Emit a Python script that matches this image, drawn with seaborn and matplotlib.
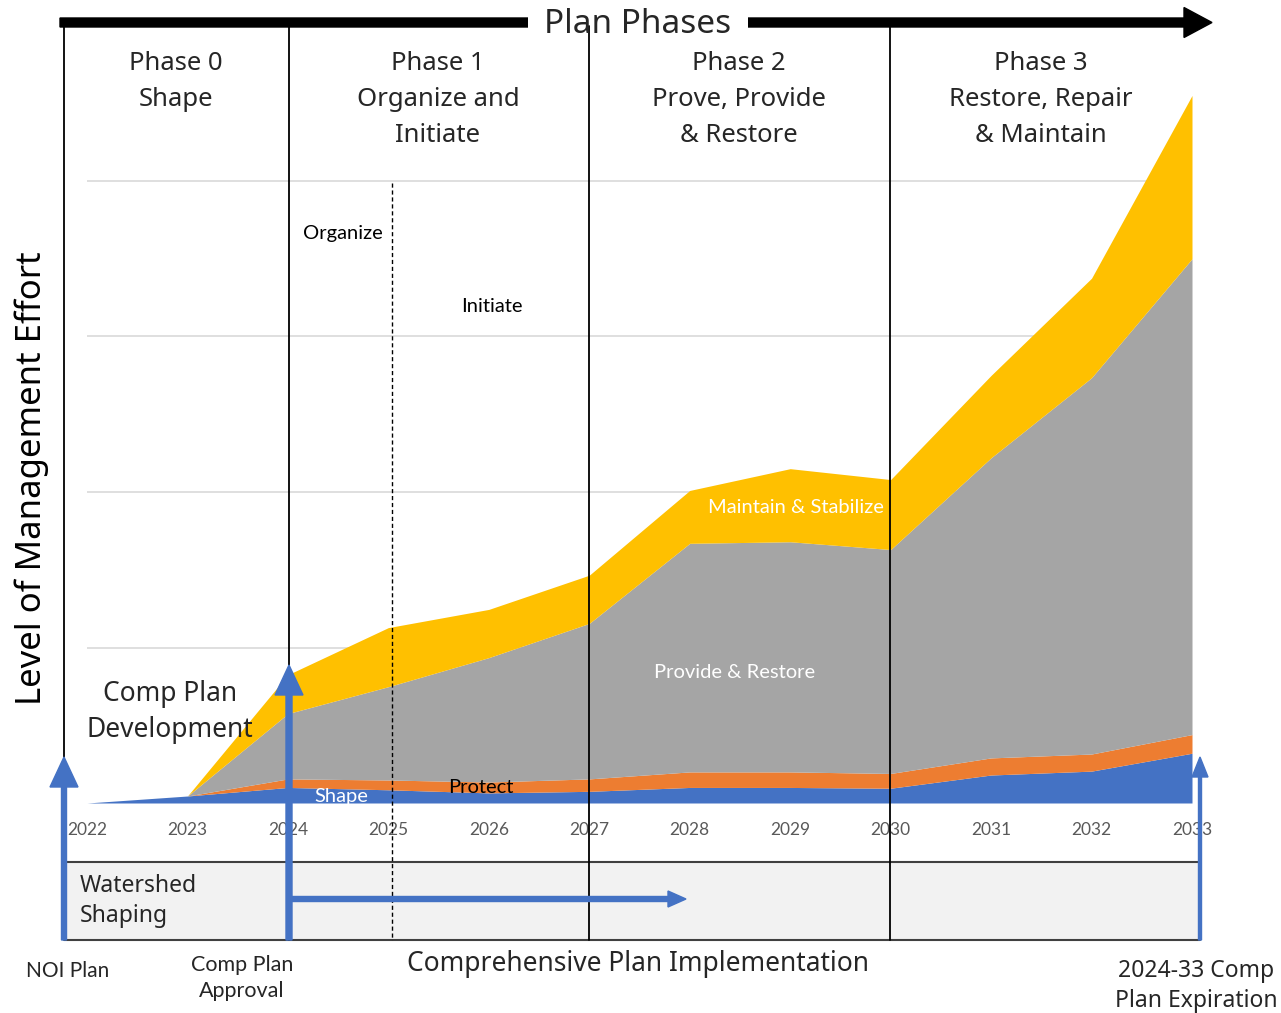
import numpy as np
import seaborn as sns
from matplotlib import pyplot as plt
from matplotlib.patches import Rectangle

years = list(range(2022, 2034))
shape = [0, 0.045, 0.10, 0.085, 0.065, 0.075, 0.10, 0.10, 0.095, 0.18, 0.205, 0.32]
protect = [0, 0, 0.055, 0.063, 0.07, 0.08, 0.10, 0.10, 0.095, 0.11, 0.11, 0.12]
provide = [0, 0, 0.42, 0.60, 0.80, 1.00, 1.47, 1.48, 1.44, 1.93, 2.42, 3.06]
maintain = [0, 0, 0.25, 0.38, 0.31, 0.31, 0.34, 0.47, 0.45, 0.53, 0.64, 1.05]
series_names = ['Shape', 'Protect', 'Provide & Restore', 'Maintain & Stabilize']
colors = ['#4472C4', '#ED7D31', '#A5A5A5', '#FFC000']

phase_labels = ['Phase 0\nShape', 'Phase 1\nOrganize and\nInitiate',
                'Phase 2\nProve, Provide\n& Restore', 'Phase 3\nRestore, Repair\n& Maintain']

sns.set_style('white')
plt.rcParams['font.family'] = ['Noto Sans', 'DejaVu Sans']
txt = '#262626'

W, H = 1281, 1013
fig = plt.figure(figsize=(W / 100, H / 100), dpi=100)

# main stacked area chart
ax = fig.add_axes([87 / W, (H - 803) / H, (1192 - 87) / W, (803 - 25.5) / H])
ax.stackplot(years, shape, protect, provide, maintain, colors=colors, labels=series_names, lw=0)
ax.set_xlim(2022, 2033)
ax.set_ylim(0, 5)
ax.set_yticks([1, 2, 3, 4])
ax.set_yticklabels([])
ax.grid(axis='y', color='#d9d9d9', lw=1.2)
ax.set_axisbelow(True)
ax.set_xticks(years)
ax.set_xticklabels([str(y) for y in years], color='#595959', fontsize=12.5, family='Lato')
ax.tick_params(axis='both', length=0)
ax.tick_params(axis='x', pad=14)
sns.despine(ax=ax, left=True, bottom=True)

lab = dict(fontsize=14.5, family='Lato', ha='center', va='center')
ax.text(2029.06, 1.90, 'Maintain & Stabilize', color='white', **lab)
ax.text(2028.45, 0.84, 'Provide & Restore', color='white', **lab)
ax.text(2024.53, 0.04, 'Shape', color='white', **lab)
ax.text(2025.92, 0.10, 'Protect', color='black', **lab)
ax.text(2024.55, 3.66, 'Organize', color='black', **lab)
ax.text(2026.03, 3.19, 'Initiate', color='black', **lab)

# overlay in pixel coordinates
ov = fig.add_axes([0, 0, 1, 1])
ov.set_xlim(0, W)
ov.set_ylim(H, 0)
ov.axis('off')
ov.patch.set_alpha(0)

# bottom band
ov.fill_between([64, 1200], 862, 940, color='#f2f2f2', lw=0, zorder=1)
ov.plot([64, 1200], [862, 862], color='#404040', lw=1.5, zorder=2)
ov.plot([64, 1200], [940, 940], color='#404040', lw=1.5, zorder=2)

# top arrow with gap for title
ov.arrow(60, 22.5, 1152, 0, width=9, head_width=30, head_length=28,
         length_includes_head=True, color='black', zorder=3)
ov.add_patch(Rectangle((528, 12), 220, 20, facecolor='white', edgecolor='none', zorder=4))
ov.text(638, 24, 'Plan Phases', fontsize=24, ha='center', va='center', color=txt, zorder=6)

# phase separators
ov.plot([64, 64], [22, 760], color='black', lw=1.3, zorder=5)
for x in [289, 589, 890]:
    ov.plot([x, x], [26, 940], color='black', lw=1.3, zorder=5)
ov.plot([392, 392], [183, 940], color='black', lw=1, ls=(0, (3, 2)), zorder=5)

phase_x = [176, 438, 739, 1041]
for x, t in zip(phase_x, phase_labels):
    ov.text(x, 51, t, fontsize=18.5, ha='center', va='top', linespacing=1.57,
            color=txt, zorder=6)

# blue milestone arrows
blue = '#4472C4'
ov.arrow(64, 940, 0, -183, width=5, head_width=28, head_length=30,
         length_includes_head=True, color=blue, zorder=7)
ov.arrow(289, 940, 0, -275, width=6, head_width=28, head_length=30,
         length_includes_head=True, color=blue, zorder=7)
ov.arrow(1200, 940, 0, -183, width=3, head_width=16, head_length=20,
         length_includes_head=True, color=blue, zorder=7)
ov.arrow(289, 899, 397, 0, width=5, head_width=16, head_length=18,
         length_includes_head=True, color=blue, zorder=7)

ov.text(170, 712, 'Comp Plan\nDevelopment', fontsize=19, ha='center', va='center',
        linespacing=1.4, color=txt, zorder=6)
ov.text(80, 901, 'Watershed\nShaping', fontsize=16.5, ha='left', va='center',
        linespacing=1.35, color=txt, zorder=6)
ov.text(68, 971, 'NOI Plan', fontsize=15, ha='center', va='center', family='Lato', color=txt)
ov.text(242, 978, 'Comp Plan\nApproval', fontsize=15.5, ha='center', va='center',
        family='Lato', linespacing=1.35, color=txt)
ov.text(638, 964, 'Comprehensive Plan Implementation', fontsize=19, ha='center',
        va='center', color=txt)
ov.text(1196, 986, '2024-33 Comp\nPlan Expiration', fontsize=16.5, ha='center',
        va='center', linespacing=1.35, color=txt)

# y axis label
ov.text(32, 478, 'Level of Management Effort', fontsize=25, rotation=90,
        ha='center', va='center', color='black')

fig.savefig('out.png', dpi=100)
